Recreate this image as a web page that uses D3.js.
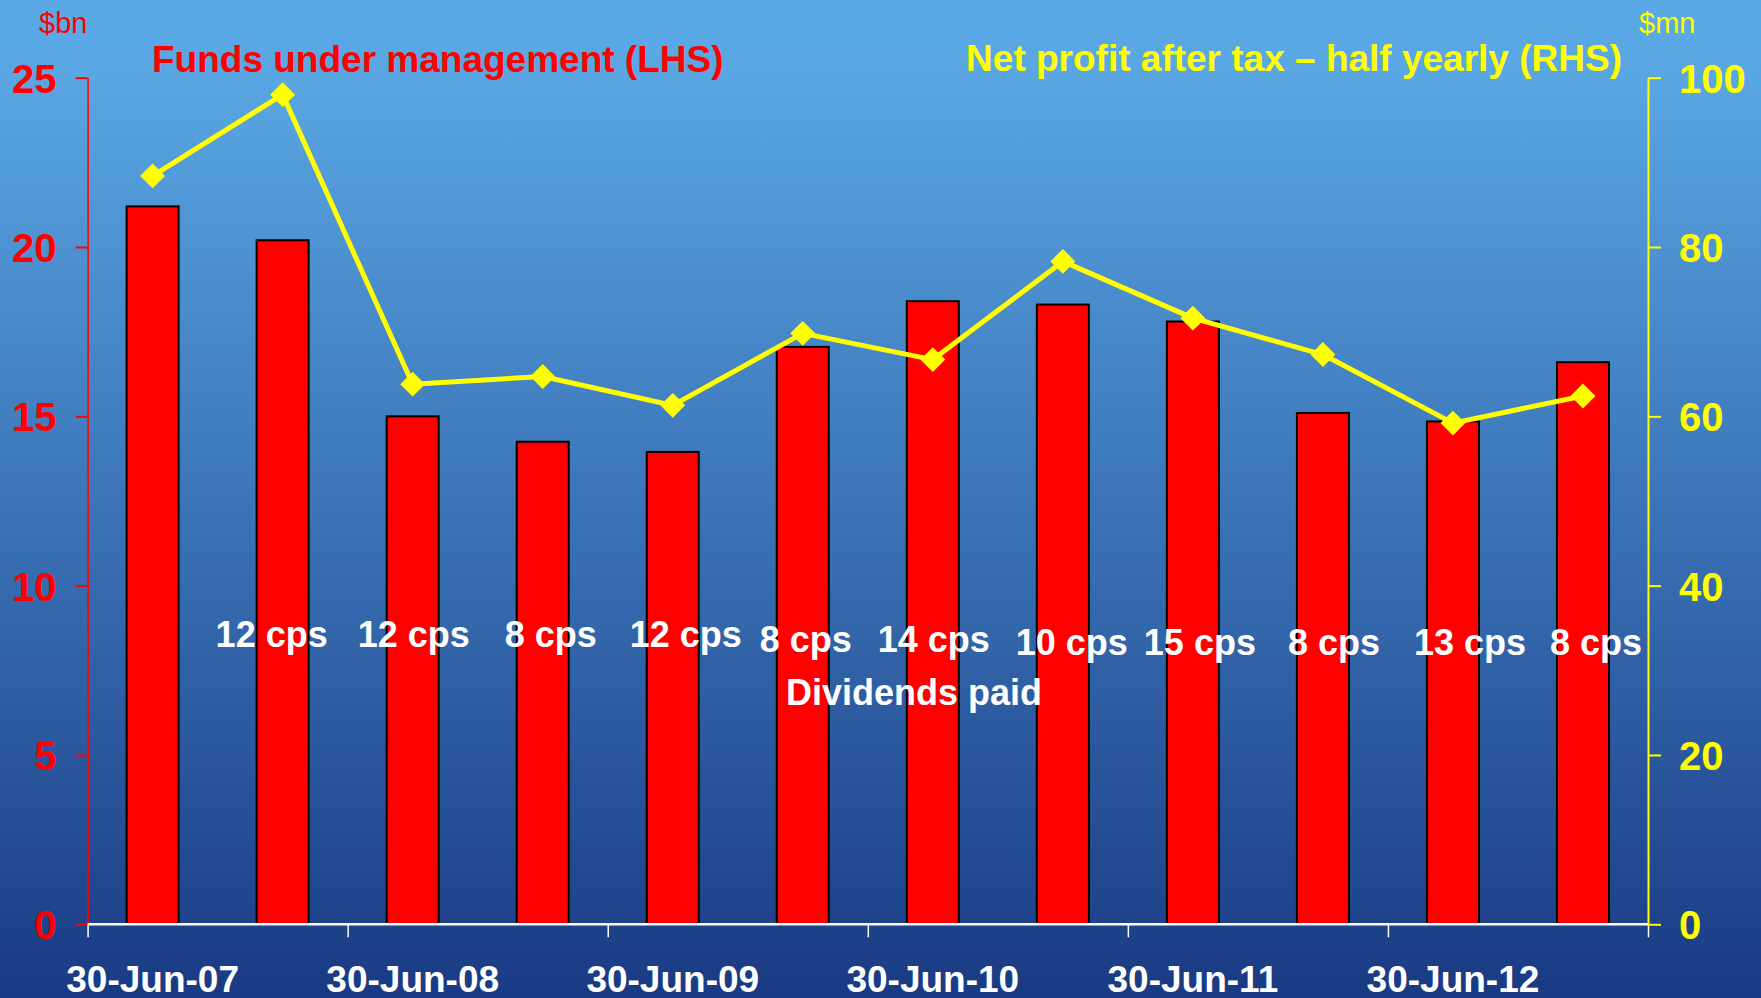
<!DOCTYPE html>
<html>
<head>
<meta charset="utf-8">
<script src="https://cdn.jsdelivr.net/npm/d3@7"></script>
<style>
    body { margin: 0; background: #1a3b84; }
    svg text { font-family: "Liberation Sans", Arial, sans-serif; font-weight: bold; }
</style>
</head>
<body>
<svg id="chart" width="1761" height="998"></svg>
<script>
// half-year periods
const categories = ['Jun-07', 'Dec-07', 'Jun-08', 'Dec-08', 'Jun-09', 'Dec-09',
                    'Jun-10', 'Dec-10', 'Jun-11', 'Dec-11', 'Jun-12', 'Dec-12'];
// date labels under the June periods
const dateLabels = ['30-Jun-07', '30-Jun-08', '30-Jun-09', '30-Jun-10', '30-Jun-11', '30-Jun-12'];
// funds under management, $bn (LHS)
const fum = [21.2, 20.2, 15.0, 14.25, 13.95, 17.05, 18.4, 18.3, 17.8, 15.1, 14.85, 16.6];
// net profit after tax, half yearly, $mn (RHS)
const npat = [88.4, 98.0, 63.8, 64.7, 61.3, 69.8, 66.7, 78.3, 71.6, 67.3, 59.2, 62.4];
// dividends paid, from the second period on
const dividends = ['12 cps', '12 cps', '8 cps', '12 cps', '8 cps', '14 cps',
                   '10 cps', '15 cps', '8 cps', '13 cps', '8 cps'];
const leftTicks = [0, 5, 10, 15, 20, 25];
const rightTicks = [0, 20, 40, 60, 80, 100];

const W = 1761, H = 998;
const plot = {left: 87.6, right: 1648, top: 77.7, bottom: 924.3};
// décalage des étiquettes de dividendes (zones de texte posées à la main)
const cpsNudgeX = [-11, 1, 8, 13, 3, 1, 9, 7, 11, 17, 13];
const cpsNudgeY = [0, 0, 0, 0, 5, 5, 8, 8, 8, 8, 8];

const svg = d3.select('#chart');

// fond dégradé
const grad = svg.append('defs').append('linearGradient')
    .attr('id', 'bg').attr('x1', 0).attr('y1', 0).attr('x2', 0).attr('y2', 1);
grad.append('stop').attr('offset', '0%').attr('stop-color', '#5aa9e5');
grad.append('stop').attr('offset', '8%').attr('stop-color', '#59a6e3');
grad.append('stop').attr('offset', '100%').attr('stop-color', '#193a83');
svg.append('rect').attr('width', W).attr('height', H).attr('fill', 'url(#bg)');

const x = d3.scaleBand()
    .domain(categories)
    .range([plot.left, plot.right])
    .paddingInner(0.6)
    .paddingOuter(0.3);
const idx = d3.scaleLinear().domain([0, categories.length]).range([plot.left, plot.right]);
const yL = d3.scaleLinear().domain([0, 25]).range([plot.bottom, plot.top]);
const yR = d3.scaleLinear().domain([0, 100]).range([plot.bottom, plot.top]);

// bars
svg.append('g').selectAll('rect')
    .data(fum)
    .join('rect')
    .attr('x', (d, i) => x(categories[i]))
    .attr('y', d => yL(d))
    .attr('width', x.bandwidth())
    .attr('height', d => yL(0) - yL(d))
    .attr('fill', '#ff0000')
    .attr('stroke', '#000')
    .attr('stroke-width', 2);

// dividend labels
svg.append('g').selectAll('text')
    .data(dividends)
    .join('text')
    .attr('x', (d, i) => x(categories[i + 1]) + x.bandwidth() / 2 + cpsNudgeX[i])
    .attr('y', (d, i) => 647 + cpsNudgeY[i])
    .attr('text-anchor', 'middle')
    .attr('fill', '#fff')
    .attr('font-size', 36)
    .text(d => d);

svg.append('text')
    .attr('x', 914).attr('y', 705)
    .attr('text-anchor', 'middle')
    .attr('fill', '#fff')
    .attr('font-size', 36)
    .text('Dividends paid');

// x axis: ticks every year, labels under June bars
const xTicks = svg.append('g')
    .attr('transform', `translate(0,${plot.bottom})`)
    .call(d3.axisBottom(idx).tickValues(d3.range(0, categories.length + 1, 2)).tickSize(13).tickFormat(''));
xTicks.select('.domain').remove();
xTicks.selectAll('line').attr('stroke', '#fff').attr('stroke-width', 1.5);

const xLabels = svg.append('g')
    .attr('transform', `translate(0,${plot.bottom})`)
    .call(d3.axisBottom(x)
        .tickValues(categories.filter((c, i) => i % 2 === 0))
        .tickSize(0)
        .tickFormat((c, i) => dateLabels[i]));
xLabels.select('.domain').remove();
xLabels.selectAll('text')
    .attr('y', 68).attr('dy', 0)
    .attr('fill', '#fff')
    .attr('font-size', 37)
    .style('font-family', '"Liberation Sans", Arial, sans-serif')
    .style('font-weight', 'bold');

// left axis
const axL = svg.append('g')
    .attr('transform', `translate(${plot.left},0)`)
    .call(d3.axisLeft(yL).tickValues(leftTicks).tickSize(12).tickSizeOuter(0).tickPadding(19));
axL.select('.domain').attr('stroke', '#ff0000').attr('stroke-width', 1.5);
axL.selectAll('line').attr('stroke', '#ff0000').attr('stroke-width', 2);
axL.selectAll('text')
    .attr('fill', '#ff0000')
    .attr('font-size', 40)
    .attr('dy', '0.36em')
    .style('font-family', '"Liberation Sans", Arial, sans-serif')
    .style('font-weight', 'bold');

// right axis
const axR = svg.append('g')
    .attr('transform', `translate(${plot.right},0)`)
    .call(d3.axisRight(yR).tickValues(rightTicks).tickSize(13).tickSizeOuter(0).tickPadding(18));
axR.select('.domain').attr('stroke', '#ffff00').attr('stroke-width', 2);
axR.selectAll('line').attr('stroke', '#ffff00').attr('stroke-width', 2);
axR.selectAll('text')
    .attr('fill', '#ffff00')
    .attr('font-size', 40)
    .attr('dy', '0.36em')
    .style('font-family', '"Liberation Sans", Arial, sans-serif')
    .style('font-weight', 'bold');

// baseline
svg.append('line')
    .attr('x1', plot.left).attr('x2', plot.right)
    .attr('y1', plot.bottom).attr('y2', plot.bottom)
    .attr('stroke', '#fff').attr('stroke-width', 2.5);

// profit line
const cx = i => x(categories[i]) + x.bandwidth() / 2;
svg.append('path')
    .datum(npat)
    .attr('d', d3.line().x((d, i) => cx(i)).y(d => yR(d)))
    .attr('fill', 'none')
    .attr('stroke', '#ffff00')
    .attr('stroke-width', 5)
    .attr('stroke-linejoin', 'round');

svg.append('g').selectAll('path')
    .data(npat)
    .join('path')
    .attr('d', d3.symbol(d3.symbolSquare, 310))
    .attr('transform', (d, i) => `translate(${cx(i)},${yR(d)}) rotate(45)`)
    .attr('fill', '#ffff00');

// titres
svg.append('text')
    .attr('x', 152).attr('y', 72)
    .attr('fill', '#ff0000')
    .attr('font-size', 37)
    .text('Funds under management (LHS)');
svg.append('text')
    .attr('x', 1622).attr('y', 71)
    .attr('text-anchor', 'end')
    .attr('fill', '#ffff00')
    .attr('font-size', 37)
    .text('Net profit after tax \u2013 half yearly (RHS)');

// unités
svg.append('text')
    .attr('x', 39).attr('y', 33)
    .attr('fill', '#ff0000')
    .attr('font-size', 29)
    .style('font-weight', 'normal')
    .text('$bn');
svg.append('text')
    .attr('x', 1639).attr('y', 33)
    .attr('fill', '#ffff00')
    .attr('font-size', 29)
    .style('font-weight', 'normal')
    .text('$mn');
</script>
</body>
</html>
